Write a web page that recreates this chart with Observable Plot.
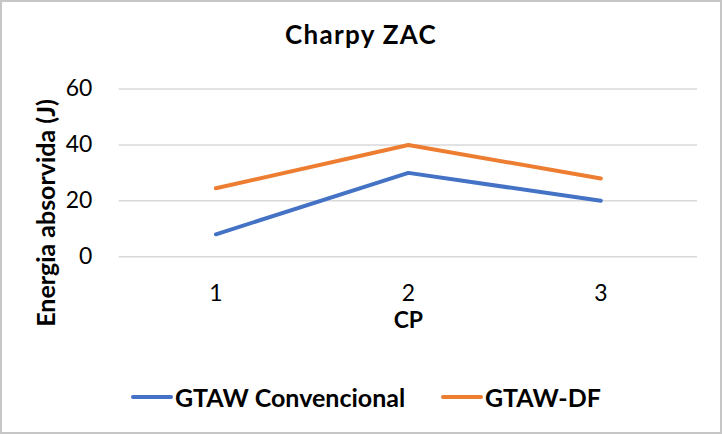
<!DOCTYPE html>
<html><head><meta charset="utf-8">
<script src="https://cdn.jsdelivr.net/npm/d3@7"></script>
<script src="https://cdn.jsdelivr.net/npm/@observablehq/plot@0.6"></script>
<style>
html,body{margin:0;padding:0;background:#fff;}
#wrap{position:relative;width:718px;height:430px;border:2px solid #c6c6c6;font-family:Lato,"Open Sans",sans-serif;color:#000;overflow:hidden;}
#title{position:absolute;left:0;width:718px;top:15px;text-align:center;font-size:26px;letter-spacing:1.3px;font-weight:bold;line-height:34px;}
#chart{position:absolute;left:-2px;top:58px;}
#chart svg g[aria-label$="tick label"]{font-size:23px;}
#chart svg g[aria-label$="axis label"]{font-size:23px;font-weight:bold;}
#ylabel{position:absolute;left:43px;top:211px;transform:translate(-50%,-50%) rotate(-90deg);white-space:nowrap;font-size:25px;font-weight:bold;line-height:30px;}
#legend{position:absolute;top:378px;left:0;width:718px;height:34px;font-size:25px;font-weight:bold;}
.item{position:absolute;top:0;display:flex;align-items:center;height:34px;}
.sw{display:inline-block;width:42px;height:4px;border-radius:2px;margin-right:2px;}
</style></head>
<body>
<div id="wrap">
<div id="title">Charpy ZAC</div>
<div id="chart"></div>
<div id="ylabel"></div>
<div id="legend"></div>
</div>
<script>
const categories = ["1", "2", "3"];
const seriesNames = ["GTAW Convencional", "GTAW-DF"];
const convencional = [8, 30, 20];
const df = [24.5, 40, 28];
const yTicks = [0, 20, 40, 60];
const colors = ["#4472C4", "#ED7D31"];
const xTitle = "CP";
const yTitle = "Energia absorvida (J)";

const data = [];
categories.forEach((c, i) => {
  data.push({cp: c, v: convencional[i], s: seriesNames[0]});
  data.push({cp: c, v: df[i], s: seriesNames[1]});
});

const plot = Plot.plot({
  width: 722,
  height: 290,
  marginLeft: 119,
  marginRight: 23,
  marginTop: 28.7,
  marginBottom: 93.3,
  style: {fontFamily: "Lato, 'Open Sans', sans-serif", color: "#000", background: "transparent"},
  x: {type: "point", domain: categories, padding: 0.5, label: xTitle},
  y: {domain: [0, 60], ticks: yTicks, label: null},
  color: {domain: seriesNames, range: colors},
  marks: [
    Plot.gridY(yTicks, {stroke: "#d9d9d9", strokeOpacity: 1, strokeWidth: 1.5}),
    Plot.axisY({ticks: yTicks, tickSize: 0, tickPadding: 27, label: null}),
    Plot.axisX({tickSize: 0, tickPadding: 28, label: xTitle, labelAnchor: "center", labelArrow: "none", labelOffset: 72}),
    Plot.line(data, {x: "cp", y: "v", z: "s", stroke: "s", strokeWidth: 4, strokeLinecap: "round", strokeLinejoin: "round"})
  ]
});
document.getElementById("chart").appendChild(plot);
document.getElementById("ylabel").textContent = yTitle;

const legend = document.getElementById("legend");
const lefts = [129, 439];
seriesNames.forEach((n, i) => {
  const it = document.createElement("div");
  it.className = "item";
  it.style.left = lefts[i] + "px";
  it.innerHTML = `<span class="sw" style="background:${colors[i]}"></span><span>${n}</span>`;
  legend.appendChild(it);
});
</script>
</body></html>
